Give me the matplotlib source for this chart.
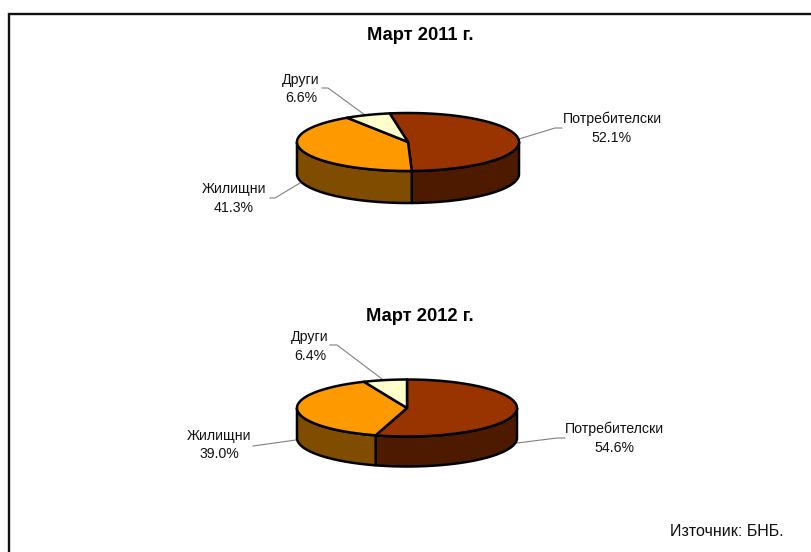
import numpy as np
import matplotlib
matplotlib.use("Agg")
import matplotlib.pyplot as plt

plt.rcParams['font.family'] = ['Liberation Sans', 'DejaVu Sans']

categories = ["Потребителски", "Жилищни", "Други"]
shares_2011 = [52.1, 41.3, 6.6]
shares_2012 = [54.6, 39.0, 6.4]

top_colors = ["#993300", "#FF9900", "#FFFFCC"]
side_colors = ["#4D1A00", "#804D00", "#808066"]


def rim(cx, cy, rx, ry, a0, a1):
    #Angles are clockwise from the top of the pie, in degrees
    n = max(int(abs(a1 - a0)) + 2, 2)
    t = np.radians(np.linspace(a0, a1, n))
    return cx + rx * np.sin(t), cy - ry * np.cos(t)


def draw_pie(ax, shares, cx, cy, rx, ry, depth, start):
    edges = start + np.cumsum([0] + shares) / np.sum(shares) * 360

    #Sides first, only the front half of the rim can be seen
    for i in range(len(shares)):
        for turn in (0, 360):
            a0 = max(edges[i] - turn, 90)
            a1 = min(edges[i + 1] - turn, 270)
            if a1 <= a0:
                continue
            x, y = rim(cx, cy, rx, ry, a0, a1)
            ax.fill(np.r_[x, x[::-1]], np.r_[y, y[::-1] + depth],
                    facecolor=side_colors[i], edgecolor="black", linewidth=1.8,
                    joinstyle="round", zorder=2)

    #Then the top of the pie
    for i in range(len(shares)):
        x, y = rim(cx, cy, rx, ry, edges[i], edges[i + 1])
        ax.fill(np.r_[cx, x], np.r_[cy, y], facecolor=top_colors[i],
                edgecolor="black", linewidth=1.8, joinstyle="round", zorder=3)


def label(ax, name, value, x, y0, y1):
    ax.text(x, y0, name, ha="center", va="center", fontsize=10.2, color="#111111")
    ax.text(x, y1, f"{value:.1f}%", ha="center", va="center", fontsize=10.2, color="#111111")


fig = plt.figure(figsize=(8.11, 5.52), dpi=100)
ax = fig.add_axes([0, 0, 1, 1])
ax.set_xlim(0, 811)
ax.set_ylim(552, 0)
ax.axis("off")

#Outer frame, only the top and left sides are in the picture
ax.plot([9, 9, 811], [552, 14, 14], color="#111111", linewidth=1.7, solid_joinstyle="miter")

draw_pie(ax, shares_2011, 408, 142, 111, 29, 32, -9.5)
draw_pie(ax, shares_2012, 407, 408, 110, 28.5, 30, 0)

ax.text(420, 35.5, "Март 2011 г.", ha="center", va="center", fontsize=13.2, fontweight="bold")
ax.text(420, 316.5, "Март 2012 г.", ha="center", va="center", fontsize=13.2, fontweight="bold")

label(ax, categories[0], shares_2011[0], 612, 119, 138)
label(ax, categories[1], shares_2011[1], 234, 189, 208)
label(ax, categories[2], shares_2011[2], 301, 80, 98)
label(ax, categories[0], shares_2012[0], 614.5, 429, 448)
label(ax, categories[1], shares_2012[1], 219, 436, 454)
label(ax, categories[2], shares_2012[2], 310, 337, 356)

#Leader lines
leaders = [
    ([322, 328, 365], [88, 88, 115]),
    ([519, 555, 562], [139, 128, 128]),
    ([270, 275, 300], [198, 198, 183]),
    ([330, 337, 382], [345, 345, 379]),
    ([517, 557, 565], [443, 438, 438]),
    ([253, 296], [446, 440]),
]
for lx, ly in leaders:
    ax.plot(lx, ly, color="#808080", linewidth=0.8, zorder=1)

ax.text(727, 531.5, "Източник: БНБ.", ha="center", va="center", fontsize=11.5, color="#111111")

fig.savefig("out.png", dpi=100)
